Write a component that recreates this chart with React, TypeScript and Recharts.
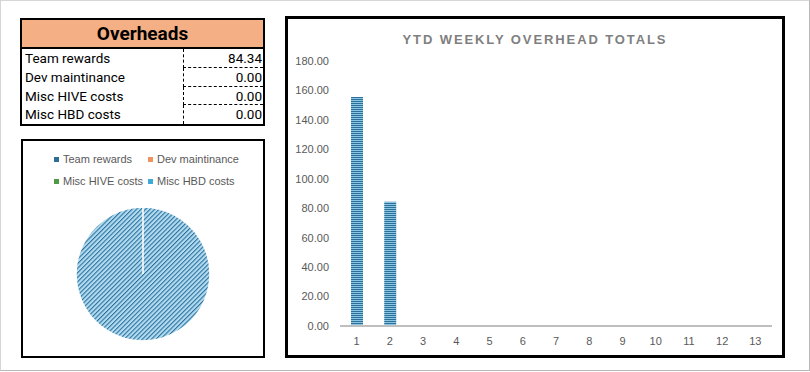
import React from "react";
import { BarChart, Bar, XAxis, YAxis, PieChart, Pie, Cell, Legend } from "recharts";

const overheadLabels = ["Team rewards", "Dev maintinance", "Misc HIVE costs", "Misc HBD costs"];
const overheadValues = [84.34, 0, 0, 0];
const legendColors = ["#2F6E94", "#F0925E", "#4E9A45", "#3FA9DC"];

const weeks = ["1", "2", "3", "4", "5", "6", "7", "8", "9", "10", "11", "12", "13"];
const weeklyTotals = [155.6, 84.34, 0, 0, 0, 0, 0, 0, 0, 0, 0, 0, 0];
const yTicks = [0, 20, 40, 60, 80, 100, 120, 140, 160, 180];

const pieData = overheadLabels.map((name, i) => ({ name, value: overheadValues[i] }));
const barData = weeks.map((week, i) => ({ week, total: weeklyTotals[i] }));

const tableFont = "Roboto, 'DejaVu Sans', sans-serif";
const chartFont = "'Liberation Sans', Arial, sans-serif";

function PieLegend() {
  return (
    <div
      style={{
        display: "grid",
        gridTemplateColumns: "94px 100px",
        rowGap: 8,
        paddingLeft: 31,
        fontFamily: chartFont,
        fontSize: 11,
        color: "#595959",
      }}
    >
      {overheadLabels.map((label, i) => (
        <div key={label} style={{ display: "flex", alignItems: "center", height: 14 }}>
          <span style={{ width: 5, height: 5, background: legendColors[i], marginRight: 4, display: "inline-block" }} />
          {label}
        </div>
      ))}
    </div>
  );
}

export default function App() {
  return (
    <div
      style={{
        position: "absolute",
        left: 0,
        top: 0,
        width: 810,
        height: 371,
        boxSizing: "border-box",
        border: "1px solid #d6d6d6",
        borderRightColor: "#b8b8b8",
        borderBottomColor: "#b8b8b8",
        background: "#fff",
      }}
    >
      {/* overheads table */}
      <div
        style={{
          position: "absolute",
          left: 19,
          top: 17,
          width: 245,
          height: 108,
          boxSizing: "border-box",
          border: "2px solid #000",
          fontFamily: tableFont,
          fontWeight: 400,
          fontSize: 13.5,
          color: "#000",
        }}
      >
        <div
          style={{
            height: 27,
            background: "#F4B084",
            borderBottom: "2px solid #000",
            textAlign: "center",
            fontWeight: 700,
            fontSize: 19,
            lineHeight: "28px",
          }}
        >
          Overheads
        </div>
        {overheadLabels.map((label, i) => (
          <div key={label} style={{ display: "flex", height: 18.75 }}>
            <div style={{ width: 161, boxSizing: "border-box", paddingLeft: 3, lineHeight: "19px" }}>{label}</div>
            <div
              style={{
                flex: 1,
                borderLeft: "1px dashed #000",
                borderBottom: i < 3 ? "1px dashed #000" : "none",
                textAlign: "right",
                paddingRight: 1,
                lineHeight: "19px",
              }}
            >
              {overheadValues[i].toFixed(2)}
            </div>
          </div>
        ))}
      </div>

      {/* pie box */}
      <div
        style={{
          position: "absolute",
          left: 20,
          top: 138,
          width: 244,
          height: 219,
          boxSizing: "border-box",
          border: "2px solid #000",
        }}
      >
        <PieChart width={240} height={215} margin={{ top: 0, right: 0, bottom: 0, left: 0 }}>
          <defs>
            <pattern id="pieHatch" width="3.2" height="3.2" patternUnits="userSpaceOnUse" patternTransform="rotate(45)">
              <rect width="3.2" height="3.2" fill="#B2DCF1" />
              <rect width="1.1" height="3.2" fill="#2E719C" />
            </pattern>
          </defs>
          <Legend verticalAlign="top" content={<PieLegend />} wrapperStyle={{ top: 11, left: 0, width: 240 }} />
          <Pie
            data={pieData}
            dataKey="value"
            nameKey="name"
            cx={120}
            cy={97}
            outerRadius={67}
            startAngle={90}
            endAngle={-270}
            stroke="#fff"
            strokeWidth={1.5}
            isAnimationActive={false}
          >
            {pieData.map((d) => (
              <Cell key={d.name} fill="url(#pieHatch)" />
            ))}
          </Pie>
        </PieChart>
      </div>

      {/* weekly bar chart box */}
      <div
        style={{
          position: "absolute",
          left: 284,
          top: 15,
          width: 500,
          height: 342,
          boxSizing: "border-box",
          border: "3px solid #000",
        }}
      >
        <div
          style={{
            position: "absolute",
            left: 0,
            right: 0,
            top: 13,
            textAlign: "center",
            fontFamily: chartFont,
            fontWeight: 700,
            fontSize: 13,
            letterSpacing: 1.9,
            color: "#7F7F7F",
          }}
        >
          YTD WEEKLY OVERHEAD TOTALS
        </div>
        <BarChart
          width={494}
          height={336}
          data={barData}
          barSize={12}
          margin={{ top: 42, right: 10, bottom: 9, left: 0 }}
        >
          <defs>
            <pattern id="barStripes" width="4" height="2" patternUnits="userSpaceOnUse">
              <rect width="4" height="2" fill="#8BC6E4" />
              <rect width="4" height="1" fill="#2C7099" />
            </pattern>
          </defs>
          <XAxis
            dataKey="week"
            axisLine={{ stroke: "#BFBFBF", strokeWidth: 2 }}
            tickLine={false}
            tickSize={0}
            tickMargin={11}
            height={20}
            tick={{ fill: "#595959", fontSize: 11, fontFamily: chartFont }}
          />
          <YAxis
            domain={[0, 180]}
            ticks={yTicks}
            width={52}
            axisLine={false}
            tickLine={false}
            tickSize={0}
            tickMargin={11}
            tickFormatter={(v: number) => v.toFixed(2)}
            tick={{ fill: "#595959", fontSize: 11, fontFamily: chartFont }}
          />
          <Bar dataKey="total" fill="url(#barStripes)" isAnimationActive={false} />
        </BarChart>
      </div>
    </div>
  );
}
